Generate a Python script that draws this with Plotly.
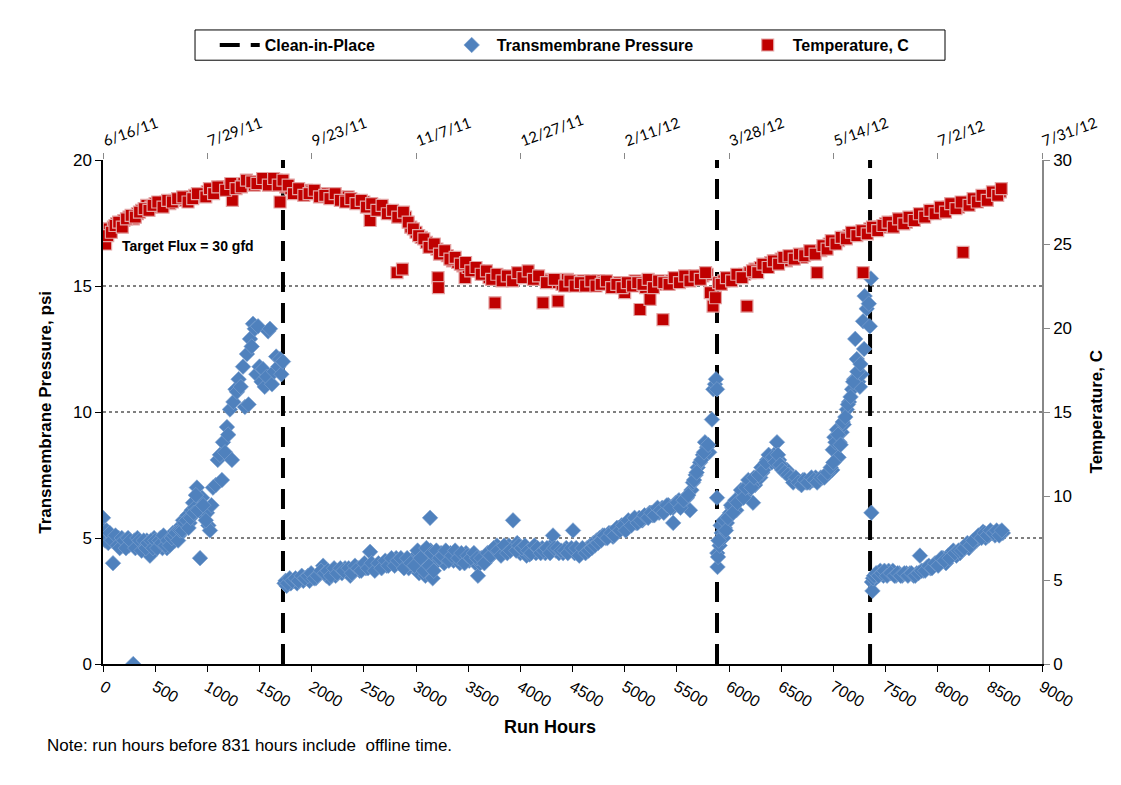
import plotly.graph_objects as go

# ---- Transmembrane pressure (psi) vs run hours ----
TMP_HOURS = [
    0, 10, 25, 40, 55, 70, 96, 110, 130, 150, 170, 190, 210, 230, 250, 270, 290, 300, 320, 340,
    360, 380, 400, 420, 440, 450, 470, 490, 510, 530, 550, 570, 590, 613, 630, 650, 670, 690, 710, 730,
    750, 767, 790, 810, 830, 850, 863, 880, 900, 930, 950, 970, 997, 1010, 1025, 1040, 1054, 1080, 1100, 1121,
    1140, 1150, 1170, 1188, 1200, 1217, 1236, 1250, 1270, 1284, 1300, 1320, 1342, 1360, 1380, 1395, 1409, 1425, 1438, 1455,
    1470, 1486, 1500, 1520, 1534, 1550, 1570, 1582, 1600, 1620, 1640, 1660, 1680, 1697, 1710, 1725,
    5, 20, 35, 50, 65, 85, 120, 140, 160, 180, 200, 220, 240, 260, 310, 330, 350, 370, 390, 410,
    430, 460, 480, 500, 520, 540, 560, 580, 600, 620, 640, 660, 680, 700, 720, 740, 760, 780, 800, 820,
    840, 870, 890, 910, 960, 985,
    1740, 1760, 1780, 1800, 1830, 1860, 1890, 1920, 1950, 1980, 2010, 2040, 2070, 2110, 2140, 2170, 2200, 2230, 2260, 2290,
    2320, 2340, 2370, 2400, 2430, 2460, 2490, 2520, 2560, 2590, 2620, 2655, 2690, 2720, 2750, 2780, 2810, 2840, 2870, 2900,
    2930, 2970, 3000, 3030, 3060, 3090, 3110, 3135, 3140, 3160, 3180, 3210, 3240, 3270, 3300, 3330, 3360, 3390, 3420, 3450,
    3480, 3510, 3540, 3570, 3594, 3615, 3640, 3670, 3700, 3730, 3760, 3776, 3800, 3830, 3860, 3890, 3930, 3945, 3970, 4000,
    4030, 4060, 4090, 4120, 4150, 4180, 4210, 4240, 4270, 4300, 4313, 4340, 4370, 4410, 4440, 4470, 4505, 4520, 4550, 4580,
    4610, 4640, 4670, 4700, 4730, 4760, 4790, 4820, 4850, 4888, 4910, 4940, 4970, 5000, 5020, 5050, 5080, 5110, 5140, 5170,
    5214, 5240, 5270, 5300, 5330, 5360, 5390, 5420, 5463, 5465, 5490, 5520, 5550, 5580, 5597, 5626, 5640, 5655, 5680, 5700,
    5722, 5750, 5770, 5789, 5810, 5837, 5850, 5866, 5875, 5885,
    1750, 1770, 1790, 1815, 1845, 1875, 1905, 1935, 1965, 1995, 2025, 2055, 2090, 2125, 2155, 2185, 2215, 2245, 2275, 2305,
    2355, 2385, 2415, 2445, 2475, 2505, 2540, 2575, 2605, 2640, 2670, 2705, 2735, 2765, 2795, 2825, 2855, 2885, 2915, 2950,
    2985, 3015, 3045, 3075, 3100, 3125, 3150, 3170, 3195, 3225, 3255, 3285, 3315, 3345, 3375, 3405, 3435, 3465, 3495, 3525,
    3555, 3585, 3625, 3655, 3685, 3715, 3745, 3785, 3815, 3845, 3875, 3905, 3960, 3985, 4015, 4045, 4075, 4105, 4135, 4165,
    4195, 4225, 4255, 4285, 4325, 4355, 4390, 4425, 4455, 4490, 4535, 4565, 4595, 4625, 4655, 4685, 4715, 4745, 4775, 4805,
    4835, 4870, 4900, 4925, 4955, 4985, 5010, 5035, 5065, 5095, 5125, 5155, 5190, 5225, 5255, 5285, 5315, 5345, 5375, 5405,
    5440, 5505, 5535, 5565, 5610, 5665, 5690, 5735, 5760, 5800,
    5885, 5888, 5890, 5895, 5910, 5930, 5945, 5960, 5980, 6000, 6010, 6030, 6050, 6070, 6090, 6105, 6130, 6150, 6170, 6200,
    6230, 6250, 6270, 6300, 6320, 6340, 6365, 6390, 6410, 6430, 6460, 6480, 6500, 6520, 6555, 6580, 6600, 6630, 6650, 6680,
    6710, 6740, 6775, 6800, 6830, 6860, 6900, 6930, 6960, 6990, 6995, 7010, 7035, 7050, 7060, 7080, 7100, 7130, 7150, 7180,
    7200, 7210, 7225, 7240, 7255, 7270, 7285, 7300, 7320, 7340, 7350, 7360, 7365,
    5900, 5920, 5950, 5970, 5990, 6020, 6040, 6060, 6080, 6115, 6140, 6160, 6185, 6215, 6240, 6285, 6310, 6330, 6355, 6380,
    6420, 6445, 6470, 6490, 6510, 6535, 6565, 6590, 6615, 6640, 6665, 6695, 6725, 6755, 6790, 6815, 6845, 6880, 6915, 6945,
    6975, 7000, 7020, 7045, 7070, 7090, 7115, 7140, 7165, 7190, 7230, 7260, 7295,
    7370, 7375, 7380, 7400, 7420, 7450, 7480, 7500, 7530, 7570, 7600, 7630, 7660, 7700, 7735, 7770, 7800, 7830, 7860, 7900,
    7930, 7960, 7990, 8020, 8050, 8080, 8100, 8130, 8150, 8180, 8215, 8240, 8270, 8300, 8330, 8350, 8375, 8400, 8435, 8460,
    8490, 8520, 8550, 8580, 8600, 8625,
    7390, 7410, 7435, 7465, 7490, 7515, 7550, 7585, 7615, 7645, 7680, 7715, 7750, 7785, 7815, 7845, 7880, 7915, 7945, 7975,
    8005, 8035, 8065, 8115, 8165, 8200, 8230, 8255, 8285, 8315, 8340, 8390, 8420, 8450, 8475, 8505, 8535, 8565, 8590, 8615,
]
TMP_PSI = [
    5.8, 5.3, 5.2, 5.0, 5.1, 5.0, 4.0, 4.9, 4.8, 5.0, 4.9, 4.7, 4.8, 4.9, 4.7, 4.8, 0.0, 4.9, 4.8, 4.7,
    4.6, 4.8, 4.7, 4.9, 4.6, 4.3, 4.8, 5.0, 4.8, 4.7, 5.0, 4.6, 4.8, 4.6, 5.0, 4.8, 5.2, 4.9, 5.3, 5.1,
    5.5, 5.7, 5.4, 5.9, 5.6, 6.1, 6.4, 6.2, 7.0, 4.2, 6.6, 5.9, 6.0, 5.5, 5.3, 6.3, 7.0, 7.1, 8.1, 8.3,
    7.3, 8.8, 8.4, 9.4, 9.1, 10.1, 8.1, 10.4, 10.9, 10.8, 11.3, 11.0, 11.8, 10.2, 12.3, 10.3, 12.9, 12.6, 13.5, 13.3,
    11.5, 13.4, 11.8, 11.2, 11.7, 11.0, 11.4, 13.2, 13.3, 11.1, 11.6, 12.2, 11.8, 12.1, 11.5, 12.0,
    5.1, 4.9, 5.3, 4.8, 5.2, 4.9, 5.1, 4.7, 4.6, 5.0, 4.9, 4.6, 5.0, 4.9, 4.6, 5.0, 4.9, 4.5, 4.9, 4.6,
    4.8, 4.9, 4.6, 4.9, 4.6, 4.9, 4.8, 5.1, 4.7, 4.9, 4.7, 5.0, 5.1, 5.2, 4.9, 5.3, 5.3, 5.6, 5.7, 5.4,
    5.8, 6.0, 6.7, 6.1, 6.3, 5.7,
    3.2, 3.1, 3.3, 3.2, 3.3, 3.2, 3.4, 3.3, 3.4, 3.3, 3.5, 3.4, 3.6, 3.9, 3.5, 3.4, 3.6, 3.5, 3.7, 3.6,
    3.8, 3.65, 3.5, 3.7, 3.8, 3.7, 3.9, 3.8, 4.45, 3.8, 3.9, 3.9, 4.0, 3.9, 4.1, 4.0, 4.2, 4.0, 3.9, 4.1,
    3.8, 4.1, 4.3, 3.6, 4.4, 3.5, 4.2, 5.8, 4.5, 3.4, 4.3, 4.1, 4.4, 4.0, 4.2, 4.4, 4.1, 4.3, 4.0, 4.2,
    4.4, 4.1, 4.3, 4.0, 3.5, 4.0, 4.1, 4.3, 4.2, 4.4, 4.5, 4.7, 4.4, 4.6, 4.5, 4.7, 5.7, 4.6, 4.8, 4.4,
    4.5, 4.3, 4.35, 4.6, 4.4, 4.5, 4.6, 4.4, 4.5, 4.7, 5.1, 4.5, 4.4, 4.4, 4.6, 4.5, 5.3, 4.4, 4.5, 4.4,
    4.5, 4.6, 4.7, 4.8, 4.9, 5.0, 5.1, 5.0, 5.2, 5.05, 5.3, 5.4, 5.5, 5.4, 5.6, 5.5, 5.7, 5.6, 5.8, 5.7,
    5.85, 6.0, 5.9, 6.1, 6.0, 6.2, 6.1, 6.3, 6.2, 5.6, 6.4, 6.5, 6.3, 6.6, 6.6, 6.1, 6.9, 7.2, 7.5, 7.8,
    8.0, 8.3, 8.8, 8.6, 8.4, 9.7, 10.9, 11.1, 11.3, 10.9,
    3.3, 3.2, 3.4, 3.3, 3.4, 3.3, 3.5, 3.4, 3.5, 3.6, 3.4, 3.5, 3.7, 3.6, 3.7, 3.5, 3.8, 3.6, 3.8, 3.7,
    3.8, 3.6, 3.9, 3.8, 3.7, 4.0, 3.8, 4.0, 3.7, 4.0, 3.8, 4.1, 3.9, 4.2, 3.9, 4.1, 4.2, 3.8, 4.2, 4.0,
    3.9, 4.5, 4.2, 3.7, 4.6, 3.9, 4.4, 3.7, 4.5, 4.2, 4.3, 4.5, 4.1, 4.3, 4.5, 4.2, 4.4, 4.0, 4.3, 4.2,
    4.4, 4.2, 4.2, 4.0, 4.4, 4.3, 4.6, 4.5, 4.3, 4.7, 4.4, 4.5, 4.5, 4.7, 4.6, 4.7, 4.5, 4.4, 4.7, 4.6,
    4.4, 4.5, 4.6, 4.4, 4.6, 4.6, 4.5, 4.5, 4.4, 4.6, 4.6, 4.3, 4.6, 4.4, 4.5, 4.6, 4.7, 4.8, 4.9, 5.1,
    5.0, 5.2, 5.1, 5.4, 5.3, 5.5, 5.3, 5.7, 5.5, 5.8, 5.6, 5.7, 5.9, 5.8, 6.0, 5.9, 6.2, 6.1, 6.0, 6.3,
    6.2, 6.4, 6.2, 6.5, 6.7, 7.3, 7.6, 8.1, 8.4, 8.7,
    6.6, 4.4, 3.85, 4.25, 4.7, 5.2, 5.0, 5.4, 5.6, 5.9, 6.0, 6.2, 6.3, 6.1, 6.5, 6.6, 6.8, 6.7, 7.0, 7.2,
    6.4, 7.1, 7.3, 7.4, 7.6, 7.9, 8.1, 8.2, 8.0, 8.3, 8.8, 8.1, 7.9, 7.8, 7.7, 7.5, 7.4, 7.3, 7.3, 7.2,
    7.3, 7.2, 7.2, 7.3, 7.4, 7.3, 7.4, 7.5, 7.6, 7.7, 8.5, 9.0, 9.3, 8.2, 8.8, 9.2, 9.5, 10.1, 10.4, 10.9,
    11.3, 12.9, 12.1, 11.2, 11.0, 11.5, 13.6, 14.6, 14.1, 14.3, 13.4, 15.3, 6.0,
    4.9, 5.5, 5.7, 5.3, 5.8, 6.3, 6.0, 6.5, 6.4, 6.9, 6.6, 7.0, 7.3, 7.0, 7.4, 7.5, 7.8, 7.7, 8.0, 8.3,
    8.2, 8.0, 8.3, 7.9, 7.7, 7.6, 7.5, 7.4, 7.2, 7.4, 7.2, 7.1, 7.3, 7.2, 7.4, 7.3, 7.2, 7.4, 7.4, 7.6,
    7.8, 8.0, 8.8, 9.1, 8.7, 9.6, 9.8, 10.3, 10.6, 11.2, 11.6, 11.9, 12.5,
    3.25, 2.9, 3.4, 3.5, 3.6, 3.7, 3.5, 3.6, 3.7, 3.7, 3.5, 3.6, 3.5, 3.6, 3.6, 3.5, 3.6, 4.3, 3.7, 3.85,
    3.8, 3.9, 4.0, 4.1, 4.2, 4.0, 4.3, 4.4, 4.5, 4.3, 4.4, 4.6, 4.7, 4.6, 4.8, 4.9, 4.9, 5.0, 5.25, 5.0,
    5.1, 5.2, 5.1, 5.2, 5.25, 5.2,
    3.5, 3.6, 3.5, 3.6, 3.7, 3.5, 3.6, 3.5, 3.6, 3.5, 3.6, 3.5, 3.6, 3.5, 3.6, 3.7, 3.7, 3.9, 3.8, 4.0,
    3.9, 4.2, 4.1, 4.2, 4.4, 4.5, 4.5, 4.6, 4.8, 4.7, 4.9, 5.1, 5.0, 5.2, 5.1, 5.3, 5.2, 5.3, 5.1, 5.3,
]

# ---- Feed temperature (C) vs run hours ----
TEMP_HOURS = [
    0, 15, 30, 60, 100, 130, 170, 200, 250, 290, 330, 370, 420, 460, 500, 550, 600, 640, 690, 740,
    790, 840, 880, 930, 960, 1000, 1040, 1080, 1120, 1150, 1200, 1240, 1250, 1300, 1350, 1400, 1450, 1500, 1560, 1610,
    1660, 1697, 1700, 1750, 1800, 1850, 1900, 1950, 2000, 2050, 2100, 2150, 2200, 2250, 2300, 2350, 2400, 2450, 2500, 2560,
    2600, 2650, 2700, 2750, 2800, 2818, 2850, 2870, 2900, 2950, 3000, 3050, 3100, 3150, 3200, 3211, 3215, 3250, 3300, 3350,
    3400, 3450, 3470, 3500, 3550, 3600, 3650, 3700, 3750, 3757, 3800, 3850, 3900, 3950, 4000, 4050, 4100, 4150, 4200, 4217,
    4280, 4350, 4361, 4400, 4450, 4500, 4550, 4600, 4650, 4700, 4750, 4800, 4850, 4900, 4950, 5000, 5050, 5100, 5147, 5200,
    5243, 5300, 5367, 5400, 5450, 5500, 5550, 5600, 5650, 5700, 5750, 5790, 5820, 5847, 5870, 5900, 5950, 6000, 6050, 6100,
    6150, 6172, 6200, 6250, 6300, 6350, 6400, 6450, 6500, 6550, 6600, 6650, 6700, 6750, 6800, 6844, 6880, 6920, 6960, 7000,
    7050, 7100, 7150, 7200, 7250, 7285, 7300, 7350, 7400, 7450, 7500, 7550, 7600, 7650, 7700, 7750, 7800, 7850, 7900, 7950,
    8000, 8050, 8100, 8150, 8200, 8243, 8280, 8320, 8360, 8400, 8450, 8500, 8550, 8600,
    25, 45, 80, 115, 150, 185, 225, 270, 310, 350, 395, 440, 480, 525, 575, 620, 665, 715, 765, 815,
    860, 905, 985, 1020, 1060, 1100, 1175, 1225, 1275, 1325, 1375, 1425, 1475, 1530, 1585, 1635, 1680, 1725, 1775, 1825,
    1875, 1925, 1975, 2025, 2075, 2125, 2175, 2225, 2275, 2325, 2375, 2425, 2475, 2525, 2575, 2625, 2675, 2725, 2775, 2825,
    2880, 2925, 2975, 3025, 3075, 3125, 3175, 3225, 3275, 3325, 3375, 3425, 3475, 3525, 3575, 3625, 3675, 3725, 3775, 3825,
    3875, 3925, 3975, 4025, 4075, 4125, 4175, 4250, 4325, 4425, 4475, 4525, 4575, 4625, 4675, 4725, 4775, 4825, 4875, 4925,
    4975, 5025, 5075, 5125, 5175, 5225, 5275, 5325, 5375, 5425, 5475, 5525, 5575, 5625, 5675, 5725, 5775, 5925, 5975, 6025,
    6075, 6125, 6225, 6275, 6325, 6375, 6425, 6475, 6525, 6575, 6625, 6675, 6725, 6775, 6825, 6900, 6940, 6980, 7025, 7075,
    7125, 7175, 7225, 7275, 7325, 7375, 7425, 7475, 7525, 7575, 7625, 7675, 7725, 7775, 7825, 7875, 7925, 7975, 8025, 8075,
    8125, 8175, 8225, 8300, 8340, 8380, 8425, 8475, 8525, 8575, 8610,
]
TEMP_C = [
    25.8, 25.4, 25.6, 25.9, 26.0, 26.2, 26.1, 26.4, 26.6, 26.5, 26.8, 27.0, 27.3, 27.2, 27.4, 27.3, 27.5, 27.4, 27.6, 27.7,
    27.6, 27.8, 27.9, 28.0, 27.9, 28.1, 28.2, 28.2, 28.3, 28.4, 28.4, 27.6, 28.5, 28.5, 28.6, 28.6, 28.5, 28.7, 28.7, 28.6,
    28.8, 27.5, 28.6, 28.4, 28.3, 28.2, 28.1, 28.2, 28.1, 28.0, 27.9, 28.0, 27.9, 27.8, 27.7, 27.8, 27.6, 27.5, 27.5, 26.4,
    27.3, 27.2, 27.0, 26.9, 26.8, 23.3, 26.7, 23.5, 26.6, 26.0, 25.7, 25.4, 25.1, 24.9, 24.7, 23.0, 22.4, 24.5, 24.3, 24.0,
    23.9, 23.7, 23.0, 23.6, 23.5, 23.4, 23.2, 23.0, 23.1, 21.5, 23.1, 23.0, 22.9, 23.0, 23.2, 23.3, 23.1, 23.0, 22.9, 21.5,
    22.8, 22.7, 21.6, 22.6, 22.9, 22.7, 22.6, 22.8, 22.7, 22.6, 22.8, 22.7, 22.6, 22.5, 22.7, 22.1, 22.6, 22.8, 21.1, 22.4,
    21.7, 22.6, 20.5, 22.7, 22.8, 22.9, 22.8, 23.0, 22.9, 23.0, 23.1, 23.2, 22.1, 21.3, 21.8, 22.7, 22.8, 22.9, 23.0, 23.1,
    23.2, 21.3, 23.3, 23.5, 23.6, 23.7, 23.9, 24.0, 24.1, 24.0, 24.2, 24.3, 24.2, 24.4, 24.5, 23.3, 24.6, 24.8, 25.0, 25.1,
    25.2, 25.4, 25.5, 25.6, 25.7, 23.3, 25.8, 25.9, 26.0, 26.0, 26.2, 26.1, 26.3, 26.4, 26.3, 26.5, 26.6, 26.7, 26.8, 27.0,
    26.9, 27.1, 27.2, 27.3, 27.2, 24.5, 27.4, 27.5, 27.6, 27.7, 27.8, 27.9, 28.0, 28.1,
    25.0, 25.5, 25.7, 26.1, 26.3, 26.0, 26.5, 26.7, 26.6, 26.9, 27.1, 27.0, 27.3, 27.5, 27.2, 27.6, 27.5, 27.7, 27.8, 27.5,
    27.7, 28.0, 27.8, 28.3, 28.0, 28.4, 28.2, 28.6, 28.3, 28.4, 28.8, 28.7, 28.6, 28.9, 28.5, 28.9, 28.5, 28.8, 28.5, 28.0,
    28.3, 27.9, 28.0, 28.2, 27.8, 27.9, 27.7, 28.0, 27.6, 27.5, 27.7, 27.4, 27.6, 27.2, 27.4, 27.0, 27.3, 26.8, 27.0, 26.6,
    26.9, 26.3, 25.9, 25.5, 25.3, 24.8, 25.0, 24.4, 24.6, 24.1, 24.2, 23.8, 23.9, 23.4, 23.6, 23.2, 23.4, 22.9, 23.2, 22.8,
    23.1, 22.8, 23.3, 23.0, 23.4, 22.9, 23.1, 22.7, 22.9, 22.5, 22.8, 22.5, 22.7, 22.5, 22.8, 22.5, 22.6, 22.8, 22.4, 22.6,
    22.4, 22.7, 22.5, 22.7, 22.6, 22.9, 22.4, 22.8, 22.7, 22.6, 23.0, 22.7, 23.1, 22.8, 23.1, 22.9, 23.3, 22.6, 23.0, 22.8,
    23.2, 23.0, 23.4, 23.3, 23.8, 23.6, 24.0, 23.8, 24.2, 24.3, 24.1, 24.4, 24.3, 24.6, 24.4, 24.9, 24.7, 25.2, 25.0, 25.4,
    25.3, 25.7, 25.5, 25.8, 25.6, 26.0, 25.8, 26.1, 26.3, 26.0, 26.5, 26.2, 26.6, 26.4, 26.8, 26.6, 27.0, 26.8, 27.2, 26.9,
    27.4, 27.1, 27.5, 27.3, 27.7, 27.5, 27.9, 27.6, 28.1, 27.9, 28.3,
]

# ---- Clean-in-place events (run hours) ----
CIP_HOURS = [1725, 5885, 7352]

# ---- Axis ticks ----
HOUR_TICKS = list(range(0, 9001, 500))
DATE_TICKS = list(range(0, 9001, 1000))
DATE_LABELS = ["6/16/11", "7/29/11", "9/23/11", "11/7/11", "12/27/11", "2/11/12",
               "3/28/12", "5/14/12", "7/2/12", "7/31/12"]
PSI_RANGE = [0, 20]
PSI_TICKS = [0, 5, 10, 15, 20]
PSI_GRID = [5, 10, 15]
TEMP_RANGE = [0, 30]
TEMP_TICKS = [0, 5, 10, 15, 20, 25, 30]

FONT = "Liberation Sans, Arial, sans-serif"
BLUE = "#4F81BD"
RED = "#C00000"
NBSP = "\u00a0"

fig = go.Figure()

# vertical dashed clean-in-place markers, one legend entry for all
cip_x, cip_y = [], []
for h in CIP_HOURS:
    cip_x += [h, h, None]
    cip_y += [PSI_RANGE[0], PSI_RANGE[1], None]
fig.add_trace(go.Scatter(
    x=cip_x, y=cip_y, mode="lines", name="Clean-in-Place" + NBSP * 15,
    line=dict(color="black", width=4, dash="20px,11px"),
    hoverinfo="skip", legendrank=1,
))

fig.add_trace(go.Scatter(
    x=TMP_HOURS, y=TMP_PSI, mode="markers",
    name="Transmembrane Pressure" + NBSP * 10,
    marker=dict(symbol="diamond", size=12, color=BLUE,
                line=dict(width=0.6, color="#7FA3D0")),
    legendrank=2,
))

fig.add_trace(go.Scatter(
    x=TEMP_HOURS, y=TEMP_C, mode="markers", name="Temperature, C",
    yaxis="y2",
    marker=dict(symbol="square", size=12, color=RED,
                line=dict(width=1.2, color="#E3A3A3")),
    legendrank=3,
))

# empty trace so the date axis along the top is drawn
fig.add_trace(go.Scatter(x=[None], y=[None], xaxis="x2", showlegend=False,
                         hoverinfo="skip"))

# dotted horizontal reference lines
for g in PSI_GRID:
    fig.add_hline(y=g, line=dict(color="black", width=1, dash="dot"), layer="below")

# frame around the legend
fig.add_shape(type="rect", xref="paper", yref="paper",
              x0=0.098, x1=0.8967, y0=1.198, y1=1.258,
              line=dict(color="black", width=1), fillcolor="rgba(0,0,0,0)")

fig.update_layout(
    width=1121, height=785,
    margin=dict(l=103, r=79, t=160, b=121),
    paper_bgcolor="white", plot_bgcolor="white",
    font=dict(family=FONT, color="black"),
    showlegend=True,
    legend=dict(
        orientation="h", x=0.119, y=1.228, xanchor="left", yanchor="middle",
        borderwidth=0, bgcolor="rgba(0,0,0,0)",
        font=dict(family=FONT, size=16, weight="bold"),
        itemwidth=40, traceorder="normal",
    ),
    xaxis=dict(
        range=[0, 9000], tickvals=HOUR_TICKS, tickangle=30,
        tickfont=dict(size=16, family=FONT),
        showline=True, linecolor="black", linewidth=1.5,
        ticks="outside", ticklen=6, tickcolor="black",
        showgrid=False, zeroline=False,
    ),
    xaxis2=dict(
        range=[0, 9000], overlaying="x", side="top", anchor="y",
        tickvals=DATE_TICKS, ticktext=DATE_LABELS, tickangle=-20,
        tickfont=dict(size=15, family="Lato, Carlito, sans-serif"),
        ticks="outside", ticklen=6, tickcolor="#888888",
        showline=False, showgrid=False, zeroline=False,
    ),
    yaxis=dict(
        range=PSI_RANGE, tickvals=PSI_TICKS,
        tickfont=dict(size=17, family=FONT),
        showline=True, linecolor="black", linewidth=1.5,
        ticks="outside", ticklen=6, tickcolor="black",
        showgrid=False, zeroline=False,
    ),
    yaxis2=dict(
        range=TEMP_RANGE, tickvals=TEMP_TICKS, overlaying="y", side="right",
        tickfont=dict(size=17, family=FONT),
        showline=True, linecolor="#888888", linewidth=1.5,
        ticks="outside", ticklen=6, tickcolor="#888888",
        showgrid=False, zeroline=False,
    ),
    annotations=[
        dict(text="Run Hours", xref="paper", yref="paper", x=0.476, y=-0.125,
             xanchor="center", yanchor="middle", showarrow=False,
             font=dict(size=18, family=FONT, weight="bold")),
        dict(text="Transmembrane Pressure, psi", xref="paper", yref="paper",
             x=-0.062, y=0.5, textangle=-90, xanchor="center", yanchor="middle",
             showarrow=False, font=dict(size=17, family=FONT, weight="bold")),
        dict(text="Temperature, C", xref="paper", yref="paper",
             x=1.058, y=0.5, textangle=-90, xanchor="center", yanchor="middle",
             showarrow=False, font=dict(size=17, family=FONT, weight="bold")),
        dict(text="Target Flux = 30 gfd", xref="paper", yref="paper",
             x=0.018, y=0.829, xanchor="left", yanchor="middle", showarrow=False,
             font=dict(size=14, family=FONT, weight="bold")),
        dict(text="Note: run hours before 831 hours include  offline time.",
             xref="paper", yref="paper", x=-0.062, y=-0.161,
             xanchor="left", yanchor="middle", showarrow=False,
             font=dict(size=17, family=FONT)),
    ],
)

fig.write_html("out.html")
